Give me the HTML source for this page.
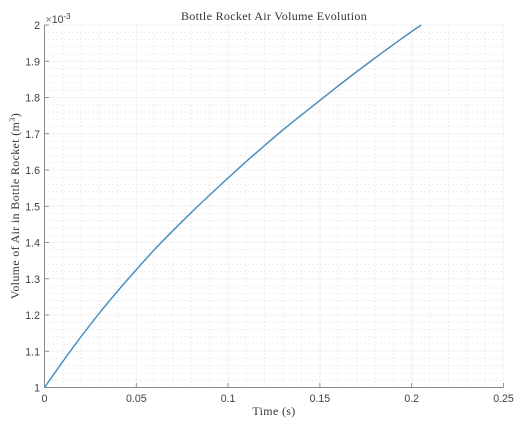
<!DOCTYPE html>
<html>
<head>
<meta charset="utf-8">
<style>
html,body{margin:0;padding:0;background:#fff;width:526px;height:429px;overflow:hidden}
svg{display:block;filter:blur(0.35px)}
.tick{font-family:"Liberation Sans",sans-serif;font-size:10.6px;fill:#404040}
.label{font-family:"Liberation Serif",serif;fill:#333;font-size:12px;letter-spacing:0.33px}
</style>
</head>
<body>
<svg id="chart" width="526" height="429" viewBox="0 0 526 429">
<g id="grid"></g>
<g id="axes"></g>
<text class="label" x="274" y="20" text-anchor="middle">Bottle Rocket Air Volume Evolution</text>
<text class="label" x="274" y="415" text-anchor="middle">Time (s)</text>
<text class="label" transform="translate(19 206) rotate(-90)" text-anchor="middle">Volume of Air in Bottle Rocket (m<tspan font-size="8.5" dy="-4">3</tspan><tspan dy="4">)</tspan></text>
<text class="tick" x="45.5" y="23"><tspan fill="#777">×</tspan>10<tspan font-size="8" dy="-4">-3</tspan></text>
<path id="curve" fill="none" stroke="#4a90bf" stroke-width="1.5" stroke-linejoin="round"></path>
</svg>
<script>
var timeValues = [0, 0.01, 0.02, 0.03, 0.04, 0.05, 0.06, 0.07, 0.08, 0.09, 0.1, 0.11, 0.12, 0.13, 0.14, 0.15, 0.16, 0.17, 0.18, 0.19, 0.2, 0.2052];
var volumeValues = [1, 1.072, 1.141, 1.206, 1.267, 1.325, 1.381, 1.433, 1.483, 1.531, 1.578, 1.624, 1.668, 1.711, 1.752, 1.792, 1.832, 1.871, 1.909, 1.946, 1.982, 2];
var xTicks = [0, 0.05, 0.1, 0.15, 0.2, 0.25];
var yTicks = [1, 1.1, 1.2, 1.3, 1.4, 1.5, 1.6, 1.7, 1.8, 1.9, 2];

var NS = 'http://www.w3.org/2000/svg';
var left = 44.5, right = 503.5, top_ = 25, bottom = 387.5;
function xScale(v) { return left + (v / 0.25) * (right - left); }
function yScale(v) { return bottom - ((v - 1) / 1) * (bottom - top_); }

function line(parent, x1, y1, x2, y2, stroke, width, dash) {
  var l = document.createElementNS(NS, 'line');
  l.setAttribute('x1', x1);
  l.setAttribute('y1', y1);
  l.setAttribute('x2', x2);
  l.setAttribute('y2', y2);
  l.setAttribute('stroke', stroke);
  l.setAttribute('stroke-width', width);
  if (dash) l.setAttribute('stroke-dasharray', dash);
  parent.appendChild(l);
  return l;
}

var grid = document.getElementById('grid');
var axes = document.getElementById('axes');
var i, g, t;

for (i = 1; i <= 25; i++) {
  g = line(grid, xScale(i * 0.01), top_, xScale(i * 0.01), bottom, '#dedede', 1, '1 3');
  
  
}
for (i = 1; i <= 50; i++) {
  g = line(grid, left, yScale(1 + i * 0.02), right, yScale(1 + i * 0.02), '#dedede', 1, '1 3');
  
  
}
xTicks.forEach(function (v) {
  if (v > 0) {
    g = line(grid, xScale(v), top_, xScale(v), bottom, '#f3f3f3', 1);
    
    
  }
  g = line(axes, xScale(v), bottom, xScale(v), bottom - 4.5, '#7a7a7a', 0.8);
  
  
  t = document.createElementNS(NS, 'text');
  t.setAttribute('class', 'tick');
  t.setAttribute('x', xScale(v));
  t.setAttribute('y', 402);
  t.setAttribute('text-anchor', 'middle');
  t.textContent = String(v);
  
  
  axes.appendChild(t);
});
yTicks.forEach(function (v) {
  if (v > 1) {
    g = line(grid, left, yScale(v), right, yScale(v), '#f3f3f3', 1);
    
    
  }
  g = line(axes, left, yScale(v), left + 4.5, yScale(v), '#7a7a7a', 0.8);
  
  
  t = document.createElementNS(NS, 'text');
  t.setAttribute('class', 'tick');
  t.setAttribute('x', 40);
  t.setAttribute('y', yScale(v) + 4);
  t.setAttribute('text-anchor', 'end');
  t.textContent = String(v);
  
  
  axes.appendChild(t);
});
g = line(axes, left, top_, left, bottom, '#8a8a8a', 1);


g = line(axes, left, bottom, right, bottom, '#8a8a8a', 1);



// Smooth path through the data points (Catmull-Rom to Bezier)
var px = timeValues.map(xScale);
var py = volumeValues.map(yScale);
var d = 'M' + px[0].toFixed(2) + ' ' + py[0].toFixed(2);
for (i = 0; i < px.length - 1; i++) {
  var a = Math.max(i - 1, 0), b = Math.min(i + 2, px.length - 1);
  var c1x = px[i] + (px[i + 1] - px[a]) / 6;
  var c1y = py[i] + (py[i + 1] - py[a]) / 6;
  var c2x = px[i + 1] - (px[b] - px[i]) / 6;
  var c2y = py[i + 1] - (py[b] - py[i]) / 6;
  d += 'C' + c1x.toFixed(2) + ' ' + c1y.toFixed(2) + ' ' + c2x.toFixed(2) + ' ' + c2y.toFixed(2) + ' ' + px[i + 1].toFixed(2) + ' ' + py[i + 1].toFixed(2);
}
document.getElementById('curve').setAttribute('d', d);
</script>
</body>
</html>
